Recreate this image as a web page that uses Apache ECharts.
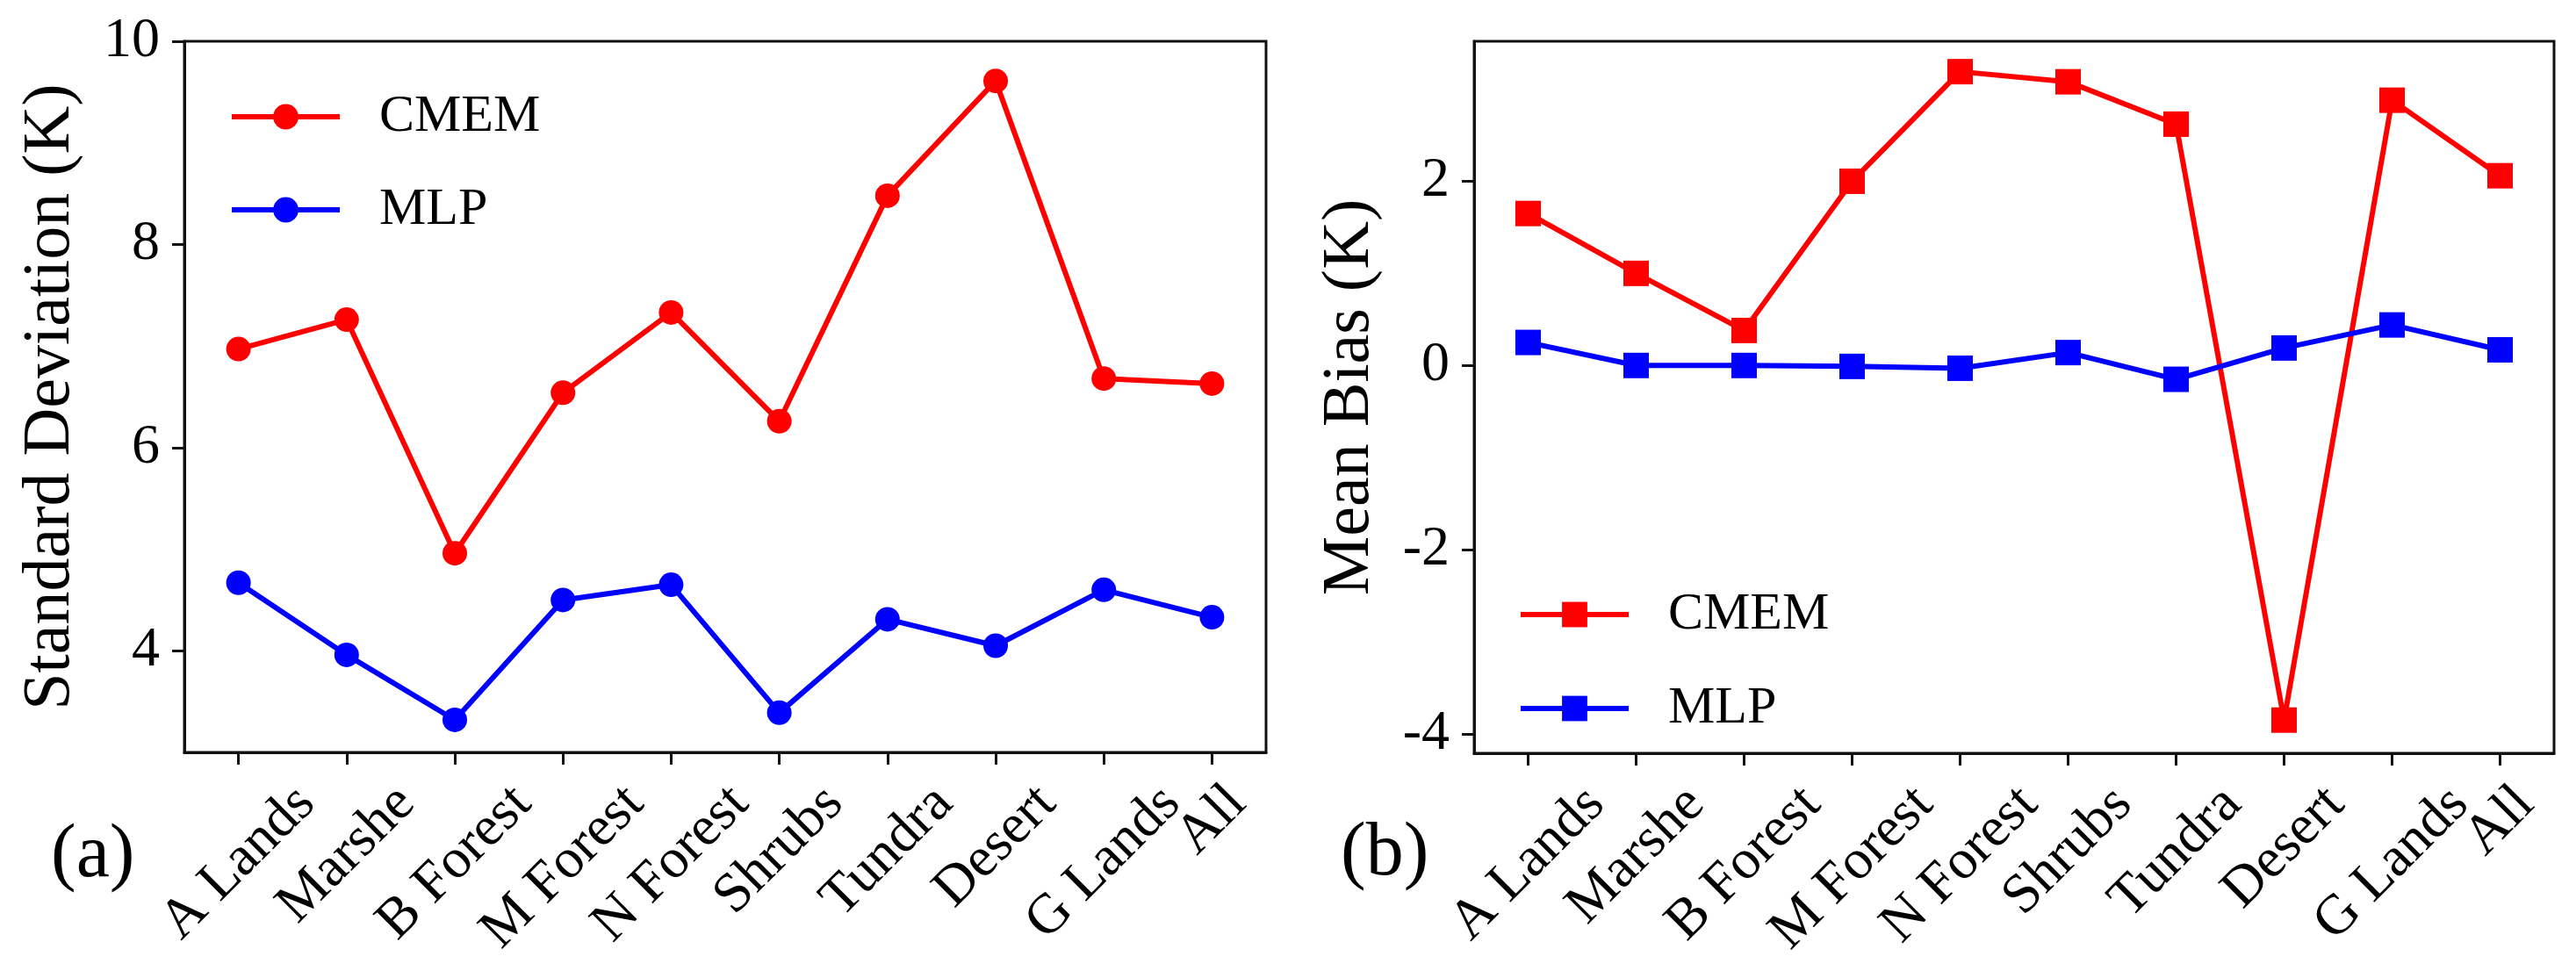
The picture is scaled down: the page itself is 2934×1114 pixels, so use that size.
<!DOCTYPE html>
<html>
<head>
<meta charset="utf-8">
<script src="https://cdn.jsdelivr.net/npm/echarts@6/dist/echarts.min.js"></script>
<style>
  html, body { margin: 0; padding: 0; background: #fff; }
  #chart { width: 2934px; height: 1114px; }
</style>
</head>
<body>
<div id="chart"></div>
<script>
// 数据
const categories = ['A Lands', 'Marshe', 'B Forest', 'M Forest', 'N Forest', 'Shrubs', 'Tundra', 'Desert', 'G Lands', 'All'];
const stdCmem = [6.97, 7.26, 4.96, 6.54, 7.33, 6.26, 8.48, 9.61, 6.68, 6.63];
const stdMlp = [4.67, 3.96, 3.32, 4.50, 4.65, 3.39, 4.31, 4.05, 4.60, 4.33];
const biasCmem = [1.65, 1.00, 0.38, 2.00, 3.19, 3.08, 2.62, -3.85, 2.88, 2.06];
const biasMlp = [0.25, 0.00, 0.00, -0.01, -0.03, 0.14, -0.15, 0.19, 0.44, 0.17];
const stdTicks = [4, 6, 8, 10];
const biasTicks = [-4, -2, 0, 2];
const seriesNames = ['CMEM', 'MLP'];

const FONT = 'Liberation Serif';
const BLACK = '#111';
const RED = '#ff0000';
const BLUE = '#0000ff';
const labelSize = 64;

// 旋转标签：模拟 matplotlib 的 ha=center 对齐，按文字宽度算 padding
const measureCtx = document.createElement('canvas').getContext('2d');
measureCtx.font = labelSize + 'px "' + FONT + '"';
function categoryItems() {
  return categories.map((name) => {
    const w = measureCtx.measureText(name).width;
    return {
      value: name,
      textStyle: {
        align: 'center',
        verticalAlign: 'top',
        padding: [0.25 * (w - labelSize), 0.5 * (w + labelSize), 0, 0],
      },
    };
  });
}

const axisLineStyle = { color: BLACK, width: 3 };

function makeX(gridIndex) {
  return {
    type: 'category',
    gridIndex: gridIndex,
    data: categoryItems(),
    boundaryGap: true,
    axisLine: { show: true, onZero: false, lineStyle: axisLineStyle },
    axisTick: { show: true, alignWithLabel: true, length: 14, lineStyle: axisLineStyle },
    axisLabel: {
      interval: 0,
      rotate: 45,
      margin: 26,
      fontSize: labelSize,
      lineHeight: labelSize,
      fontFamily: FONT,
      color: '#000',
    },
    splitLine: { show: false },
  };
}

function makeY(gridIndex, min, max, ticks, name, nameGap) {
  return {
    type: 'value',
    gridIndex: gridIndex,
    min: min,
    max: max,
    name: name,
    nameLocation: 'middle',
    nameGap: nameGap,
    nameTextStyle: { fontSize: 76, fontFamily: FONT, color: '#000' },
    axisLine: { show: true, lineStyle: axisLineStyle },
    axisTick: { show: true, length: 14, customValues: ticks, lineStyle: axisLineStyle },
    axisLabel: { customValues: ticks, margin: 28, fontSize: labelSize, fontFamily: FONT, color: '#000' },
    splitLine: { show: false },
  };
}

function makeLine(name, data, idx, color, symbol, size) {
  return {
    name: name,
    type: 'line',
    xAxisIndex: idx,
    yAxisIndex: idx,
    data: data,
    symbol: symbol,
    symbolSize: size,
    lineStyle: { width: 6, color: color },
    itemStyle: { color: color },
    emphasis: { disabled: true },
  };
}

function makeLegend(left, top, gap, suffix) {
  return {
    data: seriesNames.map((n) => n + suffix),
    orient: 'vertical',
    left: left,
    top: top,
    padding: 0,
    itemWidth: 123,
    itemHeight: 36,
    itemGap: gap,
    lineStyle: { width: 6 },
    formatter: (n) => n.replace(suffix, ''),
    textStyle: { fontSize: 60, fontFamily: FONT, color: '#000', padding: [0, 0, 0, 40] },
  };
}

const chart = echarts.init(document.getElementById('chart'));
chart.setOption({
  animation: false,
  backgroundColor: '#fff',
  title: [
    { text: '(a)', left: 58, top: 932, padding: 0, textStyle: { fontSize: 86, fontWeight: 'normal', fontFamily: FONT, color: '#000' } },
    { text: '(b)', left: 1527, top: 930, padding: 0, textStyle: { fontSize: 86, fontWeight: 'normal', fontFamily: FONT, color: '#000' } },
  ],
  legend: [makeLegend(261, 103, 46, ''), makeLegend(1729, 670, 47, '_b')],
  grid: [
    { left: 210, top: 47, width: 1232, height: 810, show: true, borderColor: BLACK, borderWidth: 3, outerBoundsMode: 'none' },
    { left: 1679, top: 47, width: 1230, height: 811, show: true, borderColor: BLACK, borderWidth: 3, outerBoundsMode: 'none' },
  ],
  xAxis: [makeX(0), makeX(1)],
  yAxis: [
    makeY(0, 3, 10, stdTicks, 'Standard Deviation (K)', 114),
    makeY(1, -4.21, 3.52, biasTicks, 'Mean Bias (K)', 103),
  ],
  series: [
    makeLine('CMEM', stdCmem, 0, RED, 'circle', 28),
    makeLine('MLP', stdMlp, 0, BLUE, 'circle', 28),
    makeLine('CMEM_b', biasCmem, 1, RED, 'rect', 29),
    makeLine('MLP_b', biasMlp, 1, BLUE, 'rect', 29),
  ],
});
</script>
</body>
</html>
